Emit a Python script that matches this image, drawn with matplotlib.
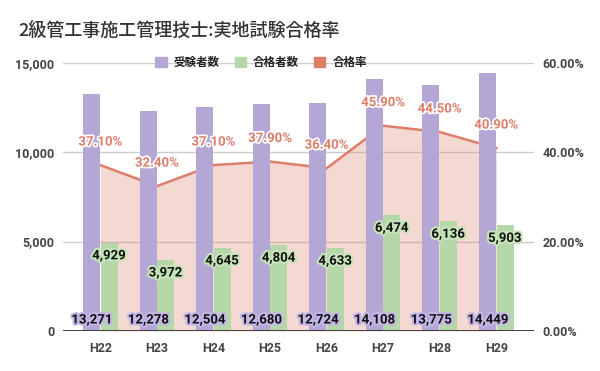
import matplotlib
matplotlib.use("Agg")
import matplotlib.pyplot as plt
import matplotlib.patheffects as pe
from matplotlib.patches import Patch
from matplotlib.ticker import FuncFormatter, MultipleLocator
import numpy as np

plt.rcParams['font.family'] = ['Roboto', 'Noto Sans CJK JP', 'DejaVu Sans']

# data
years = ['H22', 'H23', 'H24', 'H25', 'H26', 'H27', 'H28', 'H29']
examinees = [13271, 12278, 12504, 12680, 12724, 14108, 13775, 14449]
passers = [4929, 3972, 4645, 4804, 4633, 6474, 6136, 5903]
pass_rate = [37.1, 32.4, 37.1, 37.9, 36.4, 45.9, 44.5, 40.9]

purple = '#b4a7d6'
green = '#b6d7a8'
red = '#dd7e6b'

fig = plt.figure(figsize=(6, 3.71), dpi=100)
ax = fig.add_axes([0.1045, 0.1078, 0.7855, 0.7232])
ax2 = ax.twinx()
ax.set_zorder(ax2.get_zorder() + 1)
ax.patch.set_visible(False)

x = np.arange(len(years))
w = 0.30

# rate area + line on the right axis (behind bars)
ax2.fill_between(x, pass_rate, 0, color=red, alpha=0.3, lw=0)
ax2.plot(x, pass_rate, color=red, lw=1.8)
ax2.set_ylim(0, 60)
ax2.yaxis.set_major_locator(MultipleLocator(20))
ax2.yaxis.set_major_formatter(FuncFormatter(lambda v, p: f'{v:.2f}%'))
ax2.grid(axis='y', color='#cccccc', lw=1)
ax2.set_axisbelow(True)

b1 = ax.bar(x - w / 2 - 0.005, examinees, w, color=purple, zorder=2)
b2 = ax.bar(x + w / 2 + 0.005, passers, w, color=green, zorder=2)
ax.set_ylim(0, 15000)
ax.set_xlim(-0.667, len(years) - 0.333)
ax.yaxis.set_major_locator(MultipleLocator(5000))
ax.yaxis.set_major_formatter(FuncFormatter(lambda v, p: f'{int(v):,}'))
ax.set_xticks(x)
ax.set_xticklabels(years)

for a in (ax, ax2):
    for s in a.spines.values():
        s.set_visible(False)
    a.tick_params(length=0, labelsize=9, labelcolor='#444444')
    for lab in a.get_yticklabels() + a.get_xticklabels():
        lab.set_fontweight('bold')
ax.tick_params(axis='y', pad=6)
ax2.tick_params(axis='y', pad=6)
ax.tick_params(axis='x', pad=8)
ax.axhline(0, color='#333333', lw=1.3, zorder=3)

# labels
for i in range(len(years)):
    ax.annotate(f'{examinees[i]:,}', xy=(x[i] - w / 2, 0), xytext=(0, 11),
                textcoords='offset pixels', ha='center', va='center',
                fontsize=9.5, fontweight='bold', color='#111111', zorder=5,
                path_effects=[pe.withStroke(linewidth=3, foreground='#c3b6e6')])
    ax.annotate(f'{passers[i]:,}', xy=(x[i] + w / 2, passers[i]), xytext=(0, -13),
                textcoords='offset pixels', ha='center', va='center',
                fontsize=9.5, fontweight='bold', color='#111111', zorder=5,
                path_effects=[pe.withStroke(linewidth=3, foreground='#c5e3b8')])
    ax.annotate(f'{pass_rate[i]:.2f}%', xy=(x[i], pass_rate[i]), xycoords=ax2.transData,
                xytext=(0, 23), textcoords='offset pixels', ha='center', va='center',
                fontsize=9.5, fontweight='bold', color=red, zorder=6,
                path_effects=[pe.withStroke(linewidth=2.5, foreground='white')])

handles = [Patch(color=purple), Patch(color=green), Patch(color=red)]
leg = ax.legend(handles, ['受験者数', '合格者数', '合格率'], loc='center',
                bbox_to_anchor=(261 / 600, 1 - 62.5 / 371), bbox_transform=fig.transFigure,
                ncol=3, frameon=False, handlelength=1.0, handleheight=1.0,
                handletextpad=0.6, columnspacing=1.3,
                prop={'family': ['Noto Sans CJK JP'], 'weight': 'bold', 'size': 8.3})
for t in leg.get_texts():
    t.set_color('#222222')

fig.text(18 / 600, 1 - 31 / 371, '2級管工事施工管理技士:実地試験合格率',
         fontsize=13, color='#333333', ha='left', va='center',
         family=['Noto Sans CJK JP'], fontweight='medium')

fig.savefig('out.png', dpi=100)
